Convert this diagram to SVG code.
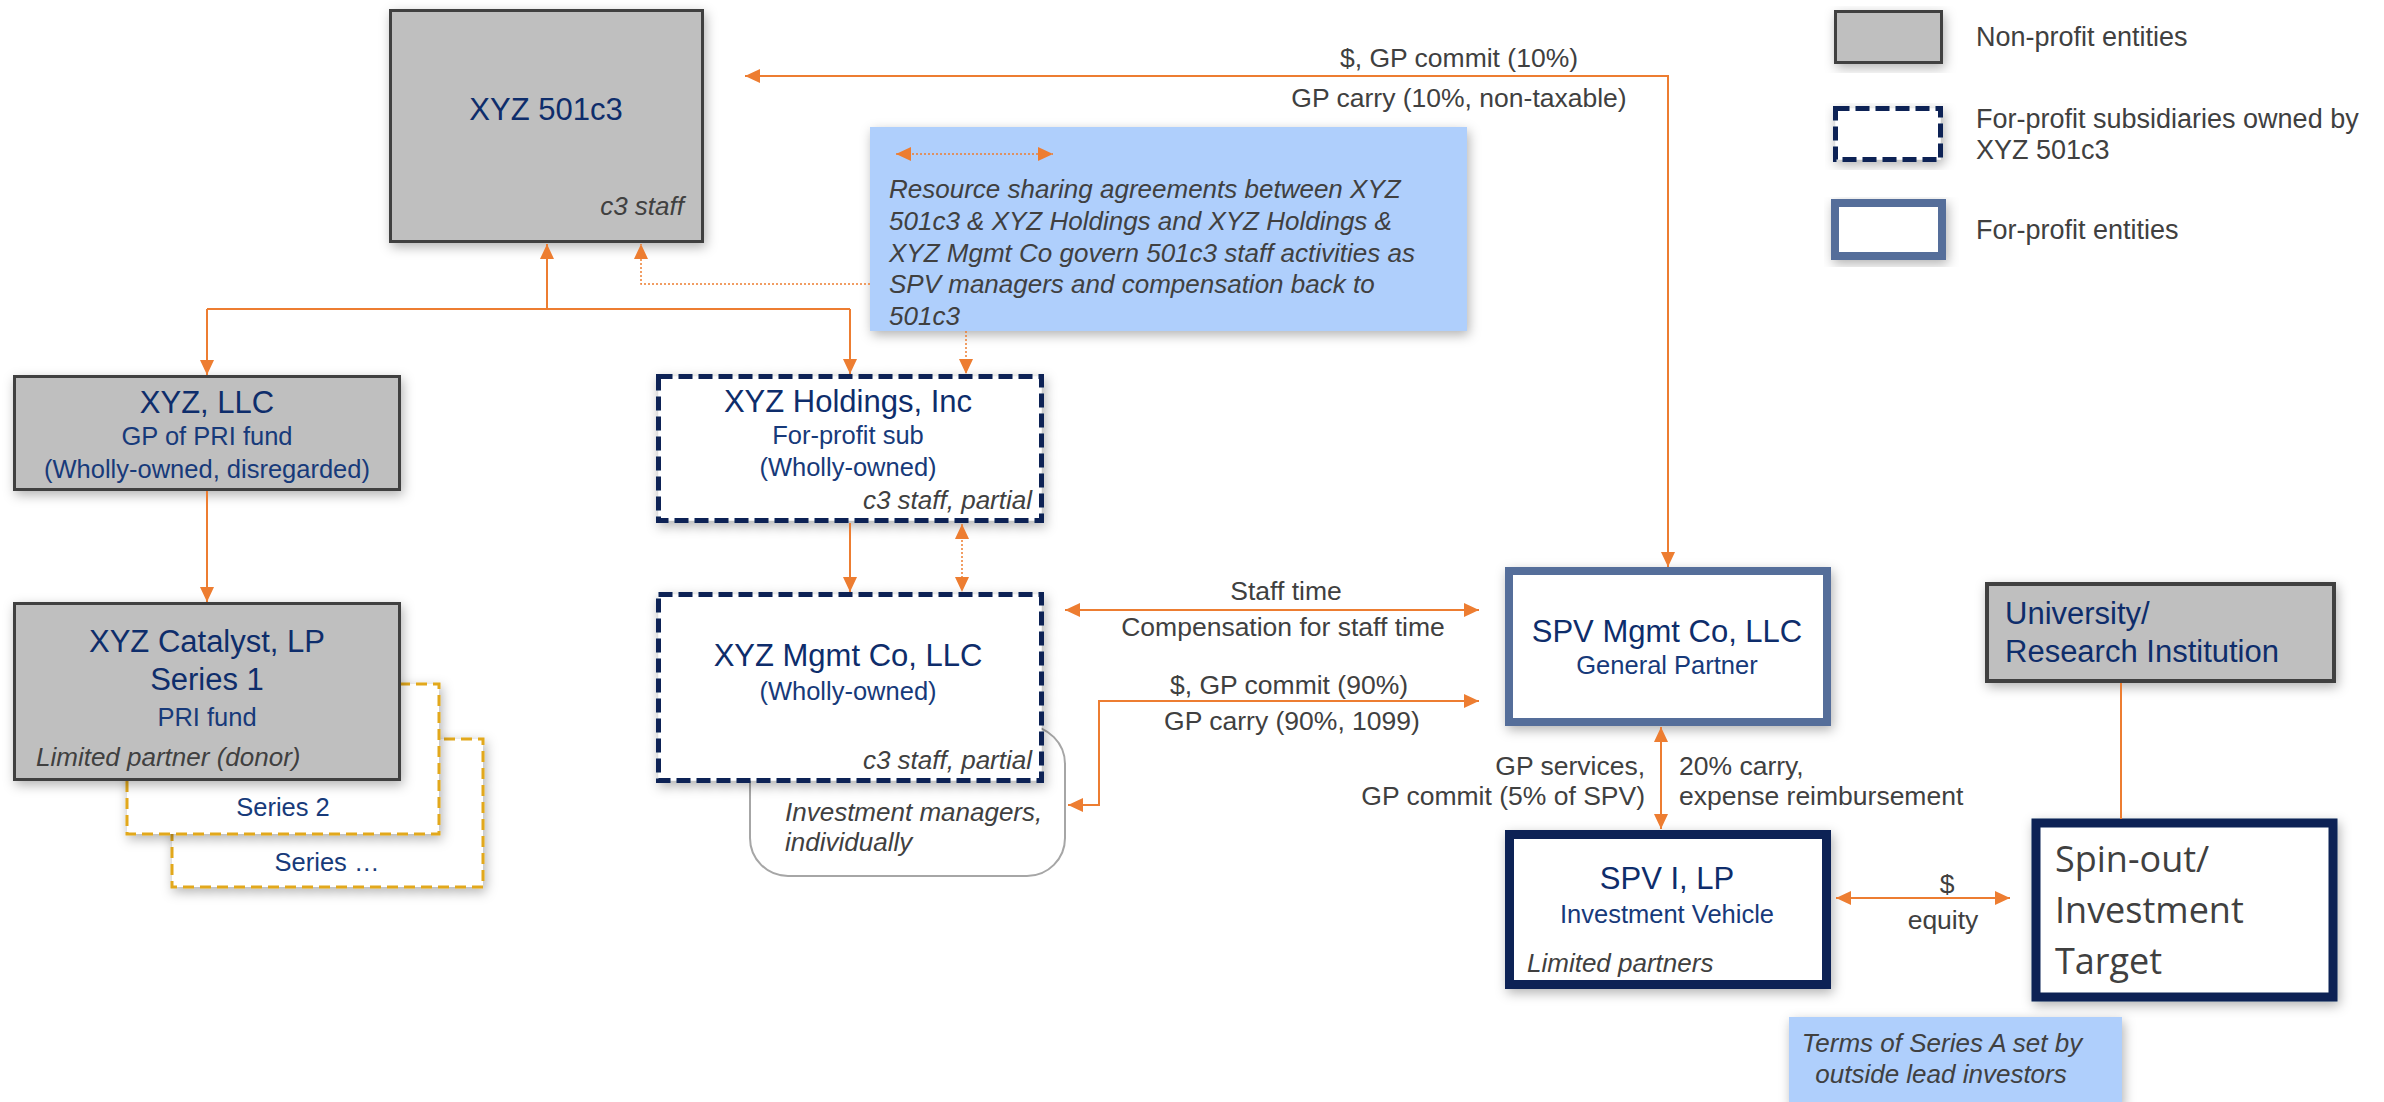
<svg xmlns="http://www.w3.org/2000/svg" width="2384" height="1102" viewBox="0 0 2384 1102">
<style>
text{font-family:"Liberation Sans",Arial,Helvetica,sans-serif;}
.t{font-size:31px;fill:#0e2d6b;text-anchor:middle;}
.tl{font-size:31px;fill:#0e2d6b;text-anchor:start;}
.s{font-size:25.5px;fill:#173a7a;text-anchor:middle;}
.i{font-size:26px;fill:#404040;font-style:italic;}
.l{font-size:26.5px;fill:#404040;}
.lg{font-size:27px;fill:#404040;}
.so{font-family:"Open Sans","Noto Sans",sans-serif;font-size:36px;fill:#404040;}
.np{fill:#bfbfbf;stroke:#404040;stroke-width:3;}
.sub{fill:#ffffff;stroke:#0b2255;stroke-width:5;stroke-dasharray:14 6;}
.ser{fill:#ffffff;stroke:#e2a81a;stroke-width:3;stroke-dasharray:11 6;}
.fp{fill:#ffffff;stroke:#546e9a;stroke-width:8;}
.fpd{fill:#ffffff;stroke:#0b2255;stroke-width:9;}
.note{fill:#afcffc;}
.c{fill:none;stroke:#ed7d31;stroke-width:2;}
.d{fill:none;stroke:#ed7d31;stroke-width:1.5;stroke-dasharray:2 2;}
</style>
<defs>
<marker id="ah" markerWidth="15" markerHeight="14" refX="15" refY="7" orient="auto-start-reverse" markerUnits="userSpaceOnUse">
<path d="M0,0 L15,7 L0,14 z" fill="#ed7d31"/>
</marker>
<filter id="sh" x="-10%" y="-10%" width="125%" height="130%">
<feDropShadow dx="2" dy="4" stdDeviation="6" flood-color="#000" flood-opacity="0.3"/>
</filter>
</defs>
<rect width="2384" height="1102" fill="#ffffff"/>

<g id="legend">
<rect class="np" x="1835.5" y="11.5" width="106" height="51" filter="url(#sh)"/>
<text class="lg" x="1976" y="46">Non-profit entities</text>
<rect class="sub" x="1835.5" y="108.5" width="105" height="51" filter="url(#sh)"/>
<text class="lg" x="1976" y="128">For-profit subsidiaries owned by</text>
<text class="lg" x="1976" y="159">XYZ 501c3</text>
<rect class="fp" x="1835" y="203" width="107" height="53" filter="url(#sh)"/>
<text class="lg" x="1976" y="239">For-profit entities</text>
</g>

<g id="node-501c3">
<rect class="np" x="390.5" y="10.5" width="312" height="231" filter="url(#sh)"/>
<text class="t" x="546" y="120">XYZ 501c3</text>
<text class="i" x="684" y="215" text-anchor="end">c3 staff</text>
</g>

<g id="node-series-n">
<rect class="ser" x="172" y="739" width="311" height="148" filter="url(#sh)"/>
<text class="s" x="327" y="871">Series …</text>
</g>
<g id="node-series-2">
<rect class="ser" x="127" y="684" width="312" height="150" filter="url(#sh)"/>
<text class="s" x="283" y="816">Series 2</text>
</g>

<g id="node-xyz-llc">
<rect class="np" x="14.5" y="376.5" width="385" height="113" filter="url(#sh)"/>
<text class="t" x="207" y="413">XYZ, LLC</text>
<text class="s" x="207" y="445">GP of PRI fund</text>
<text class="s" x="207" y="478">(Wholly-owned, disregarded)</text>
</g>

<g id="node-catalyst">
<rect class="np" x="14.5" y="603.5" width="385" height="176" filter="url(#sh)"/>
<text class="t" x="207" y="652">XYZ Catalyst, LP</text>
<text class="t" x="207" y="690">Series 1</text>
<text class="s" x="207" y="726">PRI fund</text>
<text class="i" x="36" y="766">Limited partner (donor)</text>
</g>

<g id="node-inv-managers">
<rect x="750" y="726" width="315" height="150" rx="38" ry="38" fill="#ffffff" stroke="#a6a6a6" stroke-width="2"/>
<text class="i" x="785" y="821">Investment managers,</text>
<text class="i" x="785" y="851">individually</text>
</g>

<g id="node-holdings">
<rect class="sub" x="658.5" y="376.5" width="383" height="144" filter="url(#sh)"/>
<text class="t" x="848" y="412">XYZ Holdings, Inc</text>
<text class="s" x="848" y="444">For-profit sub</text>
<text class="s" x="848" y="476">(Wholly-owned)</text>
<text class="i" x="1032" y="509" text-anchor="end">c3 staff, partial</text>
</g>

<g id="node-mgmt-co">
<rect class="sub" x="658.5" y="594.5" width="383" height="186" filter="url(#sh)"/>
<text class="t" x="848" y="666">XYZ Mgmt Co, LLC</text>
<text class="s" x="848" y="700">(Wholly-owned)</text>
<text class="i" x="1032" y="769" text-anchor="end">c3 staff, partial</text>
</g>

<g id="node-resource-note">
<rect class="note" x="870" y="127" width="597" height="204" filter="url(#sh)"/>
<path class="d" d="M896,154 H1053" marker-start="url(#ah)" marker-end="url(#ah)"/>
<text class="i" x="889" y="198">Resource sharing agreements between XYZ</text>
<text class="i" x="889" y="230">501c3 &amp; XYZ Holdings and XYZ Holdings &amp;</text>
<text class="i" x="889" y="262">XYZ Mgmt Co govern 501c3 staff activities as</text>
<text class="i" x="889" y="293">SPV managers and compensation back to</text>
<text class="i" x="889" y="325">501c3</text>
</g>

<g id="node-spv-mgmt">
<rect class="fp" x="1509" y="571" width="318" height="151" filter="url(#sh)"/>
<text class="t" x="1667" y="642">SPV Mgmt Co, LLC</text>
<text class="s" x="1667" y="674">General Partner</text>
</g>

<g id="node-spv-i">
<rect class="fpd" x="1509.5" y="834.5" width="317" height="150" filter="url(#sh)"/>
<text class="t" x="1667" y="889">SPV I, LP</text>
<text class="s" x="1667" y="923">Investment Vehicle</text>
<text class="i" x="1527" y="972">Limited partners</text>
</g>

<g id="node-university">
<rect x="1987" y="584" width="347" height="97" fill="#bfbfbf" stroke="#404040" stroke-width="4" filter="url(#sh)"/>
<text class="tl" x="2005" y="624">University/</text>
<text class="tl" x="2005" y="662">Research Institution</text>
</g>

<g id="node-spinout">
<rect class="fpd" x="2036" y="823" width="297" height="174" stroke-width="8" filter="url(#sh)"/>
<text class="so" x="2055" y="872">Spin-out/</text>
<text class="so" x="2055" y="923">Investment</text>
<text class="so" x="2055" y="974">Target</text>
</g>

<g id="node-terms-note">
<rect class="note" x="1789" y="1017" width="333" height="90" filter="url(#sh)"/>
<text class="i" x="1942" y="1052" text-anchor="middle">Terms of Series A set by</text>
<text class="i" x="1941" y="1083" text-anchor="middle">outside lead investors</text>
</g>

<g id="connectors">
<path class="c" d="M745,76 H1668 V567" marker-start="url(#ah)" marker-end="url(#ah)"/>
<path class="c" d="M547,309 V244" marker-end="url(#ah)"/>
<path class="c" d="M207,309 H850"/>
<path class="c" d="M207,309 V375" marker-end="url(#ah)"/>
<path class="c" d="M850,309 V374" marker-end="url(#ah)"/>
<path class="d" d="M870,284 H641 V244" marker-end="url(#ah)"/>
<path class="d" d="M966,331 V374" marker-end="url(#ah)"/>
<path class="c" d="M207,491 V602" marker-end="url(#ah)"/>
<path class="c" d="M850,523 V592" marker-end="url(#ah)"/>
<path class="d" d="M962,524 V592" marker-start="url(#ah)" marker-end="url(#ah)"/>
<path class="c" d="M1065,610 H1479" marker-start="url(#ah)" marker-end="url(#ah)"/>
<path class="c" d="M1068,805 H1099 V701 H1479" marker-start="url(#ah)" marker-end="url(#ah)"/>
<path class="c" d="M1661,727 V829" marker-start="url(#ah)" marker-end="url(#ah)"/>
<path class="c" d="M1836,898 H2010" marker-start="url(#ah)" marker-end="url(#ah)"/>
<path class="c" d="M2121,683 V819"/>
<text class="l" x="1459" y="67" text-anchor="middle">$, GP commit (10%)</text>
<text class="l" x="1459" y="107" text-anchor="middle">GP carry (10%, non-taxable)</text>
<text class="l" x="1286" y="600" text-anchor="middle">Staff time</text>
<text class="l" x="1283" y="636" text-anchor="middle">Compensation for staff time</text>
<text class="l" x="1289" y="694" text-anchor="middle">$, GP commit (90%)</text>
<text class="l" x="1292" y="730" text-anchor="middle">GP carry (90%, 1099)</text>
<text class="l" x="1645" y="775" text-anchor="end">GP services,</text>
<text class="l" x="1645" y="805" text-anchor="end">GP commit (5% of SPV)</text>
<text class="l" x="1679" y="775">20% carry,</text>
<text class="l" x="1679" y="805">expense reimbursement</text>
<text class="l" x="1947" y="893" text-anchor="middle">$</text>
<text class="l" x="1943" y="929" text-anchor="middle">equity</text>
</g>
</svg>
